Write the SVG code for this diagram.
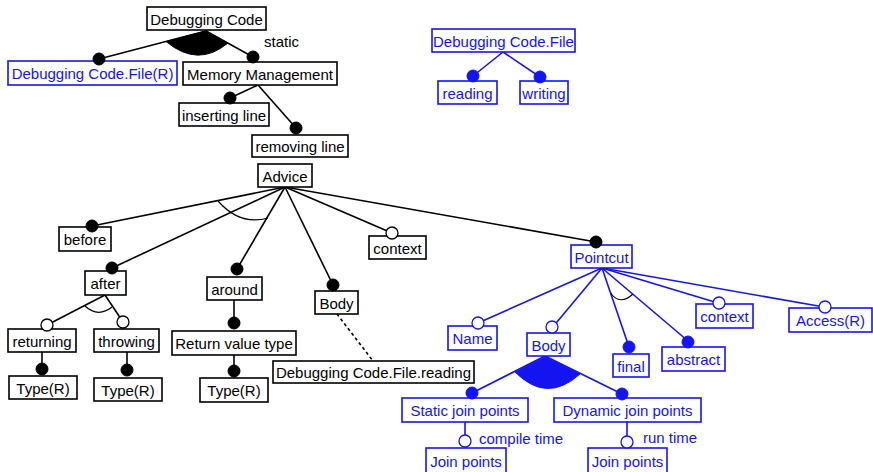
<svg xmlns="http://www.w3.org/2000/svg" width="873" height="472" viewBox="0 0 873 472">
<style>
.bx{fill:#fff;stroke:#000;stroke-width:1.6}
.bb{fill:#fff;stroke:#1414f0;stroke-width:1.6}
.t{font-family:"Liberation Sans",Arial,sans-serif;font-size:15px;fill:#000;text-anchor:middle}
.tb{font-family:"Liberation Sans",Arial,sans-serif;font-size:15px;fill:#1414f0;text-anchor:middle}
.lbl{font-family:"Liberation Sans",Arial,sans-serif;font-size:15px;fill:#000}
.lblb{font-family:"Liberation Sans",Arial,sans-serif;font-size:15px;fill:#1414f0}
.ln{stroke:#000;stroke-width:1.6;fill:none}
.lnb{stroke:#1414f0;stroke-width:1.6;fill:none}
.arc{stroke:#000;stroke-width:1.2;fill:none}
.fk{fill:#000;stroke:#000;stroke-width:1}
.ok{fill:#fff;stroke:#000;stroke-width:1.3}
.fb{fill:#1414f0;stroke:#1414f0;stroke-width:1}
.ob{fill:#fff;stroke:#1414f0;stroke-width:1.3}
</style>
<rect width="873" height="472" fill="#fff"/>
<g id="connectors">
  <line class="ln" x1="206" y1="31" x2="99" y2="59"/>
  <line class="ln" x1="206" y1="31" x2="253" y2="57"/>
  <path class="fk" d="M206,31 L166,41.5 Q198,68 228,43 Z"/>
  <line class="ln" x1="258" y1="85" x2="230" y2="98"/>
  <line class="ln" x1="258" y1="85" x2="296" y2="128"/>
  <line class="ln" x1="285" y1="187" x2="92" y2="226"/>
  <line class="ln" x1="285" y1="187" x2="112" y2="268"/>
  <line class="ln" x1="285" y1="187" x2="237" y2="269"/>
  <line class="ln" x1="285" y1="187" x2="333" y2="285"/>
  <line class="ln" x1="285" y1="187" x2="392" y2="233"/>
  <line class="ln" x1="285" y1="187" x2="596" y2="242"/>
  <path class="arc" d="M218,201 Q240,226 268,218"/>
  <line class="ln" x1="105" y1="295" x2="47" y2="325"/>
  <line class="ln" x1="105" y1="295" x2="123" y2="322"/>
  <path class="arc" d="M85,306 Q98,318 112,307"/>
  <line class="ln" x1="234" y1="300" x2="234" y2="323"/>
  <line class="ln" x1="234" y1="355" x2="234" y2="371"/>
  <line class="ln" x1="42" y1="352" x2="42" y2="369"/>
  <line class="ln" x1="127" y1="352" x2="127" y2="370"/>
  <line class="ln" x1="337" y1="314" x2="373" y2="361" stroke-dasharray="3,3"/>
  <line class="lnb" x1="503" y1="52" x2="473" y2="76"/>
  <line class="lnb" x1="503" y1="52" x2="540" y2="77"/>
  <line class="lnb" x1="602" y1="268" x2="478" y2="323"/>
  <line class="lnb" x1="602" y1="268" x2="552" y2="328"/>
  <line class="lnb" x1="602" y1="268" x2="629" y2="347"/>
  <line class="lnb" x1="602" y1="268" x2="688" y2="341"/>
  <line class="lnb" x1="602" y1="268" x2="718" y2="303"/>
  <line class="lnb" x1="602" y1="268" x2="824" y2="307"/>
  <path class="arc" d="M610.5,293 Q620,306 633,294"/>
  <line class="lnb" x1="545" y1="356" x2="472" y2="393"/>
  <line class="lnb" x1="545" y1="356" x2="622" y2="394"/>
  <path class="fb" d="M545,357 L515,372 Q547,404 580,374 Z"/>
  <line class="lnb" x1="465" y1="422" x2="465" y2="441"/>
  <line class="lnb" x1="627" y1="422" x2="627" y2="441"/>
  <text class="lbl" x="264" y="47">static</text>
  <text class="lblb" x="479" y="444">compile time</text>
  <text class="lblb" x="643" y="443">run time</text>
</g>
<g id="n-debugging-code"><rect class="bx" x="147" y="7" width="119" height="23"/><text class="t" x="206.5" y="25">Debugging Code</text></g>
<g id="n-file-r"><rect class="bb" x="8" y="61" width="169" height="24"/><text class="tb" x="92.5" y="79">Debugging Code.File(R)</text><circle class="fk" cx="99" cy="59" r="6"/></g>
<g id="n-memory"><rect class="bx" x="183" y="62" width="154" height="23"/><text class="t" x="260" y="80">Memory Management</text><circle class="fk" cx="253" cy="57" r="6"/></g>
<g id="n-inserting"><rect class="bx" x="179" y="103" width="90" height="23"/><text class="t" x="224" y="121">inserting line</text><circle class="fk" cx="230" cy="98" r="6"/></g>
<g id="n-removing"><rect class="bx" x="252" y="135" width="96" height="22"/><text class="t" x="300" y="152">removing line</text><circle class="fk" cx="296" cy="128" r="6"/></g>
<g id="n-advice"><rect class="bx" x="258" y="164" width="54" height="23"/><text class="t" x="285" y="182">Advice</text></g>
<g id="n-before"><rect class="bx" x="59" y="227" width="52" height="24"/><text class="t" x="85" y="245">before</text><circle class="fk" cx="92" cy="226" r="6"/></g>
<g id="n-after"><rect class="bx" x="85" y="271" width="41" height="24"/><text class="t" x="105.5" y="289">after</text><circle class="fk" cx="112" cy="268" r="6"/></g>
<g id="n-around"><rect class="bx" x="207" y="277" width="55" height="23"/><text class="t" x="234.5" y="295">around</text><circle class="fk" cx="237" cy="269" r="6"/></g>
<g id="n-body"><rect class="bx" x="315" y="291" width="43" height="23"/><text class="t" x="336.5" y="309">Body</text><circle class="fk" cx="333" cy="285" r="6"/></g>
<g id="n-context"><rect class="bx" x="369" y="236" width="57" height="23"/><text class="t" x="397.5" y="254">context</text><circle class="ok" cx="392" cy="233" r="6"/></g>
<g id="n-returning"><rect class="bx" x="8" y="329" width="68" height="23"/><text class="t" x="42" y="347">returning</text><circle class="ok" cx="47" cy="325" r="6"/></g>
<g id="n-throwing"><rect class="bx" x="94" y="329" width="65" height="23"/><text class="t" x="126.5" y="347">throwing</text><circle class="ok" cx="123" cy="322" r="6"/></g>
<g id="n-return-value-type"><rect class="bx" x="172" y="331" width="124" height="24"/><text class="t" x="234" y="349">Return value type</text><circle class="fk" cx="234" cy="323" r="6"/></g>
<g id="n-type-1"><rect class="bx" x="9" y="376" width="68" height="23"/><text class="t" x="43" y="394">Type(R)</text><circle class="fk" cx="42" cy="369" r="6"/></g>
<g id="n-type-2"><rect class="bx" x="94" y="378" width="68" height="23"/><text class="t" x="128" y="396">Type(R)</text><circle class="fk" cx="127" cy="370" r="6"/></g>
<g id="n-type-3"><rect class="bx" x="200" y="378" width="68" height="24"/><text class="t" x="234" y="396">Type(R)</text><circle class="fk" cx="234" cy="371" r="6"/></g>
<g id="n-file-reading"><rect class="bx" x="273" y="361" width="201" height="22"/><text class="t" x="373.5" y="378">Debugging Code.File.reading</text></g>
<g id="n-file"><rect class="bb" x="432" y="29" width="143" height="23"/><text class="tb" x="503.5" y="47">Debugging Code.File</text></g>
<g id="n-reading"><rect class="bb" x="438" y="81" width="59" height="23"/><text class="tb" x="467.5" y="99">reading</text><circle class="fb" cx="473" cy="76" r="6"/></g>
<g id="n-writing"><rect class="bb" x="520" y="81" width="48" height="23"/><text class="tb" x="544" y="99">writing</text><circle class="fb" cx="540" cy="77" r="6"/></g>
<g id="n-pointcut"><rect class="bb" x="571" y="245" width="61" height="23"/><text class="tb" x="601.5" y="263">Pointcut</text><circle class="fk" cx="596" cy="242" r="6"/></g>
<g id="n-name"><rect class="bb" x="448" y="326" width="49" height="24"/><text class="tb" x="472.5" y="344">Name</text><circle class="ob" cx="478" cy="323" r="6"/></g>
<g id="n-body-blue"><rect class="bb" x="527" y="333" width="43" height="23"/><text class="tb" x="548.5" y="351">Body</text><circle class="ob" cx="552" cy="327" r="6"/></g>
<g id="n-final"><rect class="bb" x="613" y="354" width="36" height="23"/><text class="tb" x="631" y="372">final</text><circle class="fb" cx="629" cy="347" r="6"/></g>
<g id="n-abstract"><rect class="bb" x="662" y="347" width="63" height="24"/><text class="tb" x="693.5" y="365">abstract</text><circle class="fb" cx="688" cy="342" r="6"/></g>
<g id="n-context-blue"><rect class="bb" x="696" y="304" width="57" height="24"/><text class="tb" x="724.5" y="322">context</text><circle class="ob" cx="719" cy="303" r="6"/></g>
<g id="n-access"><rect class="bb" x="789" y="308" width="83" height="24"/><text class="tb" x="830.5" y="326">Access(R)</text><circle class="ob" cx="825" cy="307" r="6"/></g>
<g id="n-static-jp"><rect class="bb" x="402" y="398" width="126" height="24"/><text class="tb" x="465" y="416">Static join points</text><circle class="fb" cx="472" cy="393" r="6"/></g>
<g id="n-dynamic-jp"><rect class="bb" x="554" y="398" width="147" height="24"/><text class="tb" x="627.5" y="416">Dynamic join points</text><circle class="fb" cx="622" cy="394" r="6"/></g>
<g id="n-jp-1"><rect class="bb" x="426" y="448" width="80" height="25"/><text class="tb" x="466" y="467">Join points</text><circle class="ob" cx="465" cy="441" r="6"/></g>
<g id="n-jp-2"><rect class="bb" x="588" y="448" width="79" height="25"/><text class="tb" x="627.5" y="467">Join points</text><circle class="ob" cx="627" cy="442" r="6"/></g>
</svg>
